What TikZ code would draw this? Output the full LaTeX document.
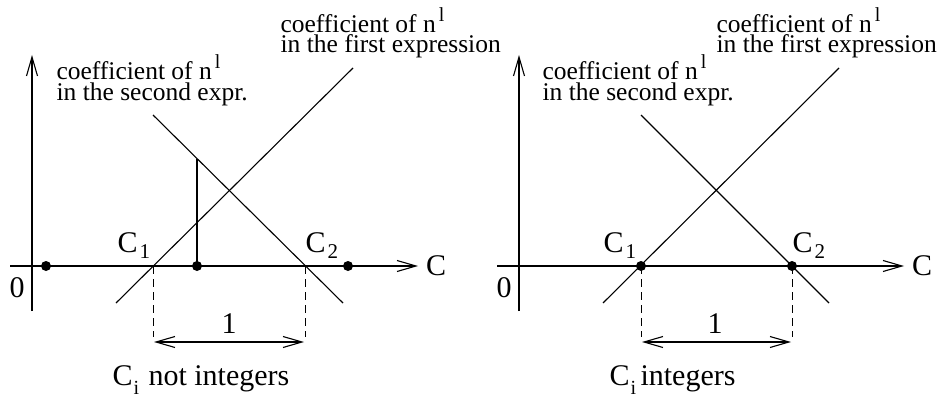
\documentclass[tikz,border=0pt]{standalone}
\usepackage{fontspec}
\setmainfont[Ligatures=NoCommon]{Liberation Serif}
\usetikzlibrary{arrows.meta,calc}
\begin{document}
\begin{tikzpicture}[x=1pt,y=-1pt,line width=1.1pt,line join=miter,
  txt/.style={font=\fontsize{25.5}{25.5}\selectfont,inner sep=0pt,anchor=base west},
  sup/.style={font=\fontsize{20}{20}\selectfont,inner sep=0pt,anchor=base west},
  big/.style={font=\fontsize{30}{30}\selectfont,inner sep=0pt,anchor=base west},
  sub/.style={font=\fontsize{21}{21}\selectfont,inner sep=0pt,anchor=base west},
  subi/.style={font=\fontsize{20}{20}\selectfont,inner sep=0pt,anchor=base west},
  dot/.style={circle,fill=black,inner sep=0pt,minimum size=10pt},
  axarrow/.style={-{Straight Barb[length=19pt,width=11pt,line width=1.1pt]}},
  dimarrow/.style={{Straight Barb[length=19pt,width=11pt,line width=1.1pt]}-{Straight Barb[length=19pt,width=11pt,line width=1.1pt]}},
  dsh/.style={dashed,dash pattern=on 8pt off 5pt,line width=1pt}]
\useasboundingbox (0,0) rectangle (937,404);

% ===== Left panel =====
\coordinate (La0) at (32,311); \coordinate (La1) at (32,55);
\coordinate (Lh0) at (10,266); \coordinate (Lh1) at (418,266);
\draw[axarrow] (La0) -- (La1);
\draw[axarrow] (Lh0) -- (Lh1);
\node[big,anchor=center] (LC) at (436,266) {C};
\node[big,anchor=center] (L0) at (17,288) {0};

\coordinate (Lr0) at (116,303); \coordinate (Lr1) at (353,68);
\coordinate (Lf0) at (153,115); \coordinate (Lf1) at (343,303);
\draw (Lr0) -- (Lr1);
\draw (Lf0) -- (Lf1);

\node[dot] (Ld1) at (46,266) {};
\node[dot] (Ld2) at (197,266) {};
\node[dot] (Ld3) at (348,266) {};
\coordinate (Lv) at (197,159);
\draw (Ld2.center) -- (Lv);

\coordinate (Lc1) at (153,266); \coordinate (Lc2) at (305,266);
\coordinate (Lc1b) at (153,337); \coordinate (Lc2b) at (305,337);
\draw[dsh] (Lc1) -- (Lc1b);
\draw[dsh] (Lc2) -- (Lc2b);
\coordinate (Lm1) at (154,342); \coordinate (Lm2) at (304,342);
\draw[dimarrow] (Lm1) -- (Lm2);
\node[big,anchor=base] (Lone) at (229,333) {1};

\node[big] (LC1) at (117,252) {C};
\node[sub] (LC1s) at ($(LC1.base east)+(1,6)$) {1};
\node[big] (LC2) at (305,252) {C};
\node[sub] (LC2s) at ($(LC2.base east)+(1,6)$) {2};

\node[big] (LCi) at (112,385) {C};
\node[subi] (LCis) at ($(LCi.base east)+(0,9)$) {i};
\node[big] (Lnot) at (148,385) {not integers};

\node[txt] (Ls1) at (56,80) {coefficient of n};
\node[sup] (Ls1s) at ($(Ls1.base east)+(2,-11)$) {l};
\node[txt] (Ls2) at (56,100) {in the second expr.};
\node[txt] (Lt1) at (280,33) {coefficient of n};
\node[sup] (Lt1s) at ($(Lt1.base east)+(2,-11)$) {l};
\node[txt] (Lt2) at (280,53) {in the first expression};

% ===== Right panel =====
\coordinate (Ra0) at (519,311); \coordinate (Ra1) at (519,55);
\coordinate (Rh0) at (497,266); \coordinate (Rh1) at (904,266);
\draw[axarrow] (Ra0) -- (Ra1);
\draw[axarrow] (Rh0) -- (Rh1);
\node[big,anchor=center] (RC) at (922,266) {C};
\node[big,anchor=center] (R0) at (504,288) {0};

\coordinate (Rr0) at (603,303); \coordinate (Rr1) at (839,68);
\coordinate (Rf0) at (641,115); \coordinate (Rf1) at (829,303);
\draw (Rr0) -- (Rr1);
\draw (Rf0) -- (Rf1);

\node[dot] (Rd1) at (641,266) {};
\node[dot] (Rd2) at (792,266) {};

\coordinate (Rc1b) at (641,337); \coordinate (Rc2b) at (792,337);
\draw[dsh] (Rd1.center) -- (Rc1b);
\draw[dsh] (Rd2.center) -- (Rc2b);
\coordinate (Rm1) at (642,342); \coordinate (Rm2) at (791,342);
\draw[dimarrow] (Rm1) -- (Rm2);
\node[big,anchor=base] (Rone) at (715,333) {1};

\node[big] (RC1) at (603,252) {C};
\node[sub] (RC1s) at ($(RC1.base east)+(1,6)$) {1};
\node[big] (RC2) at (792,252) {C};
\node[sub] (RC2s) at ($(RC2.base east)+(1,6)$) {2};

\node[big] (RCi) at (609,385) {C};
\node[subi] (RCis) at ($(RCi.base east)+(0,9)$) {i};
\node[big] (Rint) at (640,385) {integers};

\node[txt] (Rs1) at (542,80) {coefficient of n};
\node[sup] (Rs1s) at ($(Rs1.base east)+(2,-11)$) {l};
\node[txt] (Rs2) at (542,100) {in the second expr.};
\node[txt] (Rt1) at (716,33) {coefficient of n};
\node[sup] (Rt1s) at ($(Rt1.base east)+(2,-11)$) {l};
\node[txt] (Rt2) at (716,53) {in the first expression};
\end{tikzpicture}
\end{document}
